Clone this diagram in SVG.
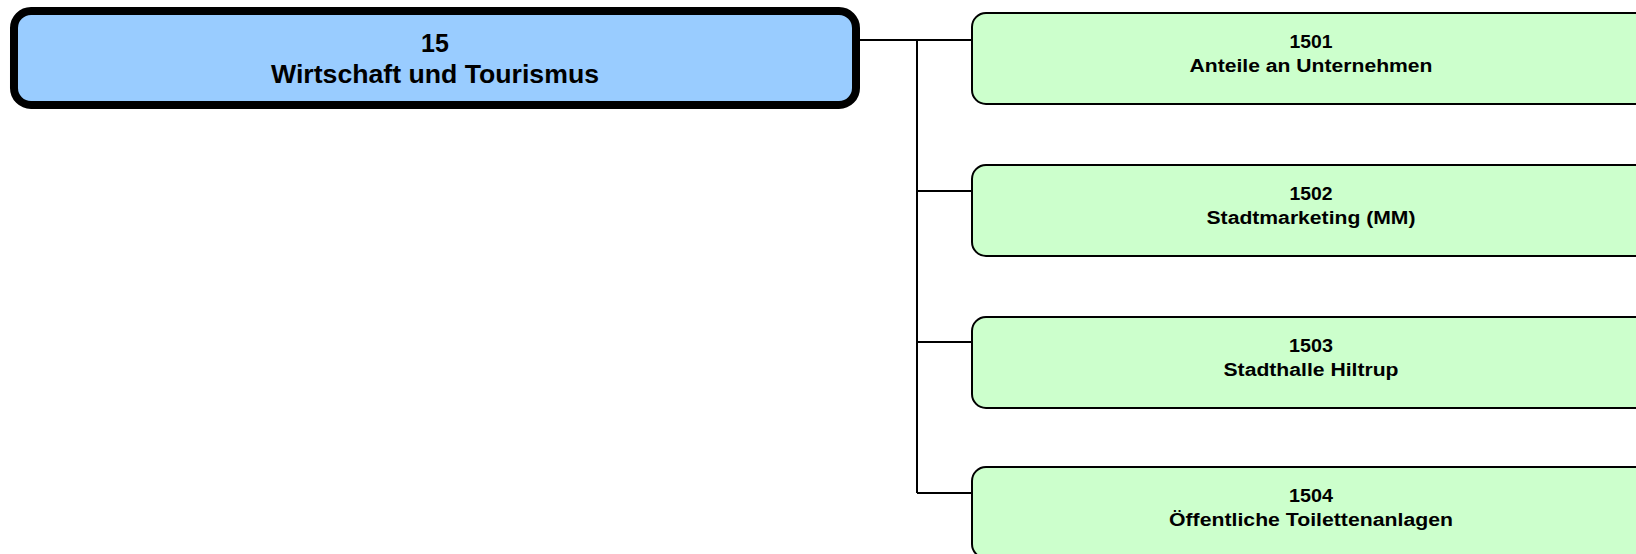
<svg xmlns="http://www.w3.org/2000/svg" width="1636" height="554" viewBox="0 0 1636 554">
<style>
.main{fill:#99CCFF;stroke:#000;stroke-width:8}
.sub{fill:#CCFFCC;stroke:#000;stroke-width:2}
.t{font-family:"Liberation Sans",Arial,sans-serif;font-weight:bold;fill:#000;text-anchor:middle}
.tm{font-size:25px}
.ts{font-size:18px}
.c{fill:none;stroke:#000;stroke-width:2}
</style>
<rect width="1636" height="554" fill="#fff"/>
<g id="connectors">
<path class="c" d="M850,40 H972 M917,40 V493 M917,191 H972 M917,342 H972 M917,493 H972"/>
</g>
<g id="n15">
<rect class="main" x="14" y="11" width="842" height="94" rx="17"/>
<text class="t tm" x="435" y="52">15</text>
<text class="t tm" x="435" y="83" textLength="328" lengthAdjust="spacingAndGlyphs">Wirtschaft und Tourismus</text>
</g>
<g id="n1501">
<rect class="sub" x="972" y="13" width="680" height="91" rx="14"/>
<text class="t ts" x="1311" y="48" textLength="43" lengthAdjust="spacingAndGlyphs">1501</text>
<text class="t ts" x="1311" y="72" textLength="243" lengthAdjust="spacingAndGlyphs">Anteile an Unternehmen</text>
</g>
<g id="n1502">
<rect class="sub" x="972" y="165" width="680" height="91" rx="14"/>
<text class="t ts" x="1311" y="200" textLength="43" lengthAdjust="spacingAndGlyphs">1502</text>
<text class="t ts" x="1311" y="224" textLength="209" lengthAdjust="spacingAndGlyphs">Stadtmarketing (MM)</text>
</g>
<g id="n1503">
<rect class="sub" x="972" y="317" width="680" height="91" rx="14"/>
<text class="t ts" x="1311" y="352" textLength="44" lengthAdjust="spacingAndGlyphs">1503</text>
<text class="t ts" x="1311" y="376" textLength="175" lengthAdjust="spacingAndGlyphs">Stadthalle Hiltrup</text>
</g>
<g id="n1504">
<rect class="sub" x="972" y="467" width="680" height="91" rx="14"/>
<text class="t ts" x="1311" y="502" textLength="44" lengthAdjust="spacingAndGlyphs">1504</text>
<text class="t ts" x="1311" y="526" textLength="284" lengthAdjust="spacingAndGlyphs">Öffentliche Toilettenanlagen</text>
</g>
</svg>
